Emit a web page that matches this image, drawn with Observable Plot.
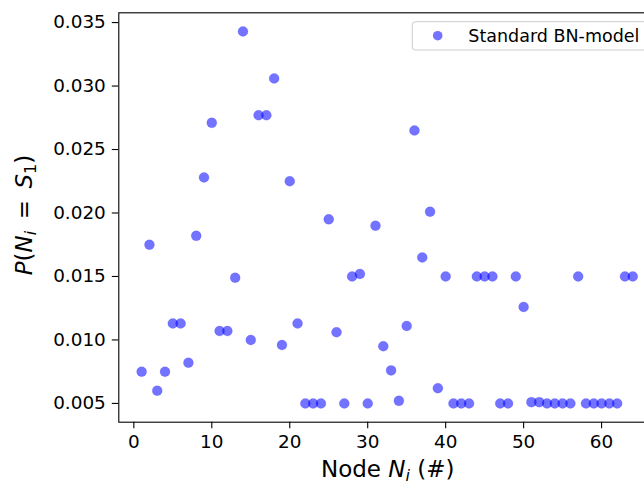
<!DOCTYPE html>
<html><head><meta charset="utf-8">
<script src="https://cdn.jsdelivr.net/npm/d3@7"></script>
<script src="https://cdn.jsdelivr.net/npm/@observablehq/plot@0.6"></script>
<style>
html,body{margin:0;padding:0;background:#fff;}
#wrap{width:644px;height:484px;overflow:hidden;position:relative;}
</style></head><body><div id="wrap"></div>
<script>
const nodes = [1,2,3,4,5,6,7,8,9,10,11,12,13,14,15,16,17,18,19,20,21,22,23,24,25,26,27,28,29,30,31,32,
  33,34,35,36,37,38,39,40,41,42,43,44,45,46,47,48,49,50,51,52,53,54,55,56,57,58,59,60,61,62,63,64];
const probs = [0.0075,0.0175,0.0060,0.0075,0.0113,0.0113,0.0082,0.0182,0.0228,0.0271,0.0107,0.0107,0.0149,0.0343,0.0100,0.0277,
  0.0277,0.0306,0.0096,0.0225,0.0113,0.0050,0.0050,0.0050,0.0195,0.0106,0.0050,0.0150,0.0152,0.0050,0.0190,0.0095,
  0.0076,0.0052,0.0111,0.0265,0.0165,0.0201,0.0062,0.0150,0.0050,0.0050,0.0050,0.0150,0.0150,0.0150,0.0050,0.0050,
  0.0150,0.0126,0.0051,0.0051,0.0050,0.0050,0.0050,0.0050,0.0150,0.0050,0.0050,0.0050,0.0050,0.0050,0.0150,0.0150];
const xTicks = [0,10,20,30,40,50,60];
const yTicks = [0.005,0.010,0.015,0.020,0.025,0.030,0.035];
const seriesNames = ["Standard BN-model"];

const data = nodes.map((n,i)=>({node:n, p:probs[i]}));

const plot = Plot.plot({
  width: 658, height: 484,
  marginLeft: 118.3, marginRight: 1.2, marginTop: 12.3, marginBottom: 62.3,
  style: {fontFamily: "DejaVu Sans", fontSize: "18.4px", color: "black", background: "white", overflow: "visible", maxWidth: "none"},
  x: {domain: [-1.93, 67.15], label: null},
  y: {domain: [0.00352, 0.03577], label: null},
  marks: [
    Plot.dot(data, {x: "node", y: "p", r: 5, fill: "blue", fillOpacity: 0.55, stroke: "blue", strokeOpacity: 0.12, strokeWidth: 1}),
    Plot.frame({stroke: "black", strokeWidth: 1.1}),
    Plot.axisX(xTicks, {tickSize: 6.5, tickPadding: 6.5, label: null, strokeWidth: 1.1}),
    Plot.axisY(yTicks, {tickSize: 6.5, tickPadding: 6.5, tickFormat: d3.format(".3f"), label: null, strokeWidth: 1.1})
  ]
});
document.getElementById("wrap").appendChild(plot);

const svg = d3.select(plot);
const ff = "DejaVu Sans";

// x axis label: Node N_i (#)
const xl = svg.append("text").attr("x", 387.7).attr("y", 477).attr("text-anchor", "middle")
  .style("font-family", ff).style("font-size", "23px").attr("fill", "black");
xl.append("tspan").text("Node ");
xl.append("tspan").attr("font-style", "italic").text("N");
xl.append("tspan").attr("font-style", "italic").attr("font-size", "16px").attr("dy", "4").text("i");
xl.append("tspan").attr("dy", "-4").text(" (#)");

// y axis label: P(N_i = S_1)
const yl = svg.append("text").attr("transform", "translate(32,215) rotate(-90)").attr("text-anchor", "middle")
  .style("font-family", ff).style("font-size", "23px").attr("fill", "black");
yl.append("tspan").attr("font-style", "italic").text("P");
yl.append("tspan").text("(");
yl.append("tspan").attr("font-style", "italic").text("N");
yl.append("tspan").attr("font-style", "italic").attr("font-size", "16px").attr("dy", "4").text("i");
yl.append("tspan").attr("dy", "-4").text("\u2002=\u2002");
yl.append("tspan").attr("font-style", "italic").text("S");
yl.append("tspan").attr("font-size", "16px").attr("dy", "4").text("1");
yl.append("tspan").attr("dy", "-4").text(")");

// legend
const lg = svg.append("g").attr("text-anchor", "start");
lg.append("rect").attr("x", 412.3).attr("y", 21.7).attr("width", 300).attr("height", 28.3).attr("rx", 3)
  .attr("fill", "white").attr("fill-opacity", 0.8).attr("stroke", "#cccccc").attr("stroke-width", 1);
seriesNames.forEach((name, i) => {
  lg.append("circle").attr("cx", 437.7).attr("cy", 35.7 + i * 28).attr("r", 4.8)
    .attr("fill", "blue").attr("fill-opacity", 0.55);
  lg.append("text").attr("x", 468.3).attr("y", 42 + i * 28).attr("text-anchor", "start")
    .style("font-family", ff).style("font-size", "17.5px").attr("fill", "black").text(name);
});
</script></body></html>
